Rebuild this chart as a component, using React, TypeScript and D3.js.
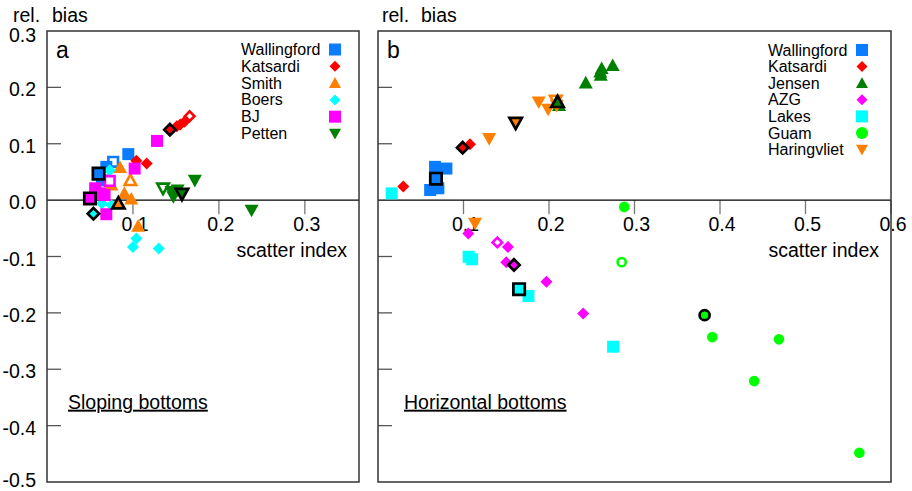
import React from "react";
import * as d3 from "d3";

type Kind = "f" | "o" | "b"; // filled, open, black-outlined
type Pt = [number, number, Kind];

// ---------- Panel a (sloping bottoms) ----------
const wallingfordA: Pt[] = [
  [0.0946, 0.0816, "f"], [0.077, 0.068, "o"], [0.069, 0.059, "f"], [0.064, 0.035, "f"], [0.060, 0.047, "b"],
];
const katsardiA: Pt[] = [
  [0.104, 0.070, "f"], [0.116, 0.065, "f"], [0.151, 0.131, "f"], [0.155, 0.134, "f"], [0.160, 0.139, "f"],
  [0.166, 0.149, "o"], [0.143, 0.125, "b"],
];
const smithA: Pt[] = [
  [0.085, 0.058, "f"], [0.097, 0.035, "o"], [0.090, 0.012, "f"], [0.098, 0.002, "f"], [0.106, -0.046, "f"],
  [0.075, 0.027, "f"], [0.083, -0.006, "b"],
];
const boersA: Pt[] = [
  [0.073, 0.053, "f"], [0.064, -0.006, "f"], [0.075, -0.009, "f"], [0.104, -0.068, "f"], [0.100, -0.083, "f"],
  [0.130, -0.086, "f"], [0.054, -0.024, "b"],
];
const bjA: Pt[] = [
  [0.102, 0.056, "f"], [0.128, 0.105, "f"], [0.056, 0.021, "f"], [0.067, 0.009, "f"], [0.062, 0.012, "f"],
  [0.069, -0.025, "f"], [0.073, 0.034, "o"], [0.050, 0.003, "b"],
];
const pettenA: Pt[] = [
  [0.135, 0.021, "o"], [0.147, 0.006, "f"], [0.145, 0.015, "f"], [0.152, 0.018, "f"], [0.172, 0.035, "f"],
  [0.238, -0.018, "f"], [0.157, 0.011, "b"],
];

// ---------- Panel b (horizontal bottoms) ----------
const wallingfordB: Pt[] = [
  [0.0667, 0.059, "f"], [0.080, 0.056, "f"], [0.061, 0.018, "f"], [0.0706, 0.021, "f"], [0.0678, 0.038, "b"],
];
const katsardiB: Pt[] = [
  [0.0296, 0.024, "f"], [0.1076, 0.099, "f"], [0.099, 0.093, "b"],
];
const jensenB: Pt[] = [
  [0.243, 0.208, "f"], [0.260, 0.2275, "f"], [0.2605, 0.2216, "f"], [0.2616, 0.2335, "f"], [0.2745, 0.239, "f"],
  [0.2117, 0.168, "f"], [0.210, 0.174, "b"],
];
const azgB: Pt[] = [
  [0.1056, -0.059, "f"], [0.1396, -0.075, "o"], [0.152, -0.083, "f"], [0.150, -0.110, "f"], [0.197, -0.145, "f"],
  [0.240, -0.201, "f"], [0.159, -0.115, "b"],
];
const lakesB: Pt[] = [
  [0.016, 0.012, "f"], [0.106, -0.1005, "f"], [0.110, -0.105, "f"], [0.176, -0.170, "f"], [0.275, -0.260, "f"],
  [0.165, -0.158, "b"],
];
const guamB: Pt[] = [
  [0.288, -0.012, "f"], [0.285, -0.110, "o"], [0.391, -0.243, "f"], [0.469, -0.247, "f"], [0.440, -0.321, "f"],
  [0.563, -0.448, "f"], [0.382, -0.204, "b"],
];
const haringvlietB: Pt[] = [
  [0.188, 0.174, "f"], [0.199, 0.161, "f"], [0.209, 0.168, "f"], [0.130, 0.109, "f"], [0.1135, -0.041, "f"],
  [0.208, 0.177, "o"], [0.161, 0.137, "b"],
];

const yTicks = [0.3, 0.2, 0.1, 0.0, -0.1, -0.2, -0.3, -0.4, -0.5];
const xTicksA = [0.1, 0.2, 0.3];
const xTicksB = [0.1, 0.2, 0.3, 0.4, 0.5, 0.6];

type Shape = "square" | "diamond" | "triUp" | "triDown" | "circle";
interface Series { name: string; color: string; shape: Shape; pts: Pt[] }

const seriesA: Series[] = [
  { name: "Wallingford", color: "#0a7cff", shape: "square", pts: wallingfordA },
  { name: "Katsardi", color: "#ff0000", shape: "diamond", pts: katsardiA },
  { name: "Smith", color: "#ff8000", shape: "triUp", pts: smithA },
  { name: "Boers", color: "#00ffff", shape: "diamond", pts: boersA },
  { name: "BJ", color: "#ff00ff", shape: "square", pts: bjA },
  { name: "Petten", color: "#008000", shape: "triDown", pts: pettenA },
];
const seriesB: Series[] = [
  { name: "Wallingford", color: "#0a7cff", shape: "square", pts: wallingfordB },
  { name: "Katsardi", color: "#ff0000", shape: "diamond", pts: katsardiB },
  { name: "Jensen", color: "#008000", shape: "triUp", pts: jensenB },
  { name: "AZG", color: "#ff00ff", shape: "diamond", pts: azgB },
  { name: "Lakes", color: "#00ffff", shape: "square", pts: lakesB },
  { name: "Guam", color: "#00ff00", shape: "circle", pts: guamB },
  { name: "Haringvliet", color: "#ff8000", shape: "triDown", pts: haringvlietB },
];

function shapePath(shape: Shape, r: number): string {
  const p = d3.path();
  if (shape === "square") {
    p.rect(-r, -r, 2 * r, 2 * r);
  } else if (shape === "diamond") {
    p.moveTo(0, -r); p.lineTo(r, 0); p.lineTo(0, r); p.lineTo(-r, 0); p.closePath();
  } else if (shape === "triUp") {
    p.moveTo(0, -r); p.lineTo(r, r * 0.8); p.lineTo(-r, r * 0.8); p.closePath();
  } else if (shape === "triDown") {
    p.moveTo(0, r); p.lineTo(r, -r * 0.8); p.lineTo(-r, -r * 0.8); p.closePath();
  } else {
    p.arc(0, 0, r, 0, Math.PI * 2); p.closePath();
  }
  return p.toString();
}

const baseR: Record<Shape, number> = { square: 6, diamond: 6, triUp: 7, triDown: 7, circle: 5.3 };

function Marker({ s, kind, x, y }: { s: Series; kind: Kind; x: number; y: number }) {
  const r = baseR[s.shape];
  if (kind === "f") {
    return <path d={shapePath(s.shape, r)} transform={`translate(${x},${y})`} fill={s.color} />;
  }
  if (kind === "o") {
    return (
      <path d={shapePath(s.shape, r - 1.2)} transform={`translate(${x},${y})`} fill="#fff" stroke={s.color} strokeWidth={2.6} />
    );
  }
  const rb = s.shape === "triUp" || s.shape === "triDown" ? r - 0.8 : r - 0.3;
  return (
    <path d={shapePath(s.shape, rb)} transform={`translate(${x},${y})`} fill={s.color} stroke="#000" strokeWidth={2.7} strokeLinejoin="miter" />
  );
}

const FONT = "'Liberation Sans', Arial, sans-serif";
const FS = 19.5;

function Panel({
  left, right, top, bottom, xMax, xTicks, series, letter, showYLabels, bottomLabel, bottomLabelX, legendTextX, legendMarkX, legendY0, legendDy, relX,
}: {
  left: number; right: number; top: number; bottom: number; xMax: number; xTicks: number[]; series: Series[];
  letter: string; showYLabels: boolean; bottomLabel: string; bottomLabelX: number; legendTextX: number; legendMarkX: number; legendY0: number; legendDy: number; relX: number;
}) {
  const x = d3.scaleLinear().domain([0, xMax]).range([left, right]);
  const y = d3.scaleLinear().domain([-0.5, 0.3]).range([bottom, top]);
  const y0 = y(0);
  const innerYTicks = yTicks.filter((t) => t < 0.29 && t > -0.49 && Math.abs(t) > 1e-9);
  const all: { s: Series; p: Pt }[] = [];
  series.forEach((s) => s.pts.forEach((p) => all.push({ s, p })));
  const normal = all.filter((d) => d.p[2] !== "b");
  const high = all.filter((d) => d.p[2] === "b");
  return (
    <g fontFamily={FONT}>
      <text x={relX} y={22} fontSize={FS} fill="#000">rel.</text>
      <text x={relX + 39} y={22} fontSize={FS} fill="#000">bias</text>
      {showYLabels &&
        yTicks.map((t) => (
          <text key={t} x={36} y={y(t) + (t > 0.29 ? 11 : t < -0.49 ? 5 : 9)} fontSize={FS} textAnchor="end" fill="#000">
            {t.toFixed(1)}
          </text>
        ))}
      {innerYTicks.map((t) => (
        <line key={t} x1={left} x2={left + 14} y1={y(t)} y2={y(t)} stroke="#555" strokeWidth={1.3} />
      ))}
      {xTicks.map((t) => (
        <g key={t}>
          <line x1={x(t)} x2={x(t)} y1={y0} y2={y0 + 14} stroke="#777" strokeWidth={1.3} />
          <text x={x(t) + 2} y={y0 + 31} fontSize={FS} textAnchor="middle" fill="#000">
            {t.toFixed(1)}
          </text>
        </g>
      ))}
      <line x1={left} x2={right} y1={y0} y2={y0} stroke="#000" strokeWidth={1.4} />
      <text x={right - 12} y={y0 + 57} fontSize={FS} textAnchor="end" fill="#000">scatter index</text>
      <text x={left + 9} y={top + 27} fontSize={23} fill="#000">{letter}</text>
      <text x={bottomLabelX} y={y(-0.37)} fontSize={FS} textDecoration="underline" fill="#000">{bottomLabel}</text>
      {series.map((s, i) => (
        <g key={s.name}>
          <text x={legendTextX} y={legendY0 + i * legendDy + 5.5} fontSize={16} fill="#000">{s.name}</text>
          <path d={shapePath(s.shape, s.shape === "diamond" ? 5.5 : 6)} transform={`translate(${legendMarkX},${legendY0 + i * legendDy})`} fill={s.color} />
        </g>
      ))}
      {normal.map((d, i) => (
        <Marker key={"n" + i} s={d.s} kind={d.p[2]} x={x(d.p[0])} y={y(d.p[1])} />
      ))}
      {high.map((d, i) => (
        <Marker key={"h" + i} s={d.s} kind="b" x={x(d.p[0])} y={y(d.p[1])} />
      ))}
      <rect x={left} y={top} width={right - left} height={bottom - top} fill="none" stroke="#333" strokeWidth={1.5} />
    </g>
  );
}

export default function App() {
  return (
    <svg width={912} height={491} style={{ position: "absolute", left: 0, top: 0, background: "#fff" }}>
      <rect x={0} y={0} width={912} height={491} fill="#fff" />
      <Panel left={47} right={359} top={31} bottom={482} xMax={0.363} xTicks={xTicksA} series={seriesA}
        letter="a" showYLabels bottomLabel="Sloping bottoms" bottomLabelX={68} legendTextX={241} legendMarkX={335} legendY0={49.5} legendDy={16.8} relX={13} />
      <Panel left={378} right={891} top={31} bottom={482} xMax={0.6} xTicks={xTicksB} series={seriesB}
        letter="b" showYLabels={false} bottomLabel="Horizontal bottoms" bottomLabelX={404} legendTextX={768} legendMarkX={862} legendY0={50} legendDy={16.6} relX={382} />
    </svg>
  );
}
